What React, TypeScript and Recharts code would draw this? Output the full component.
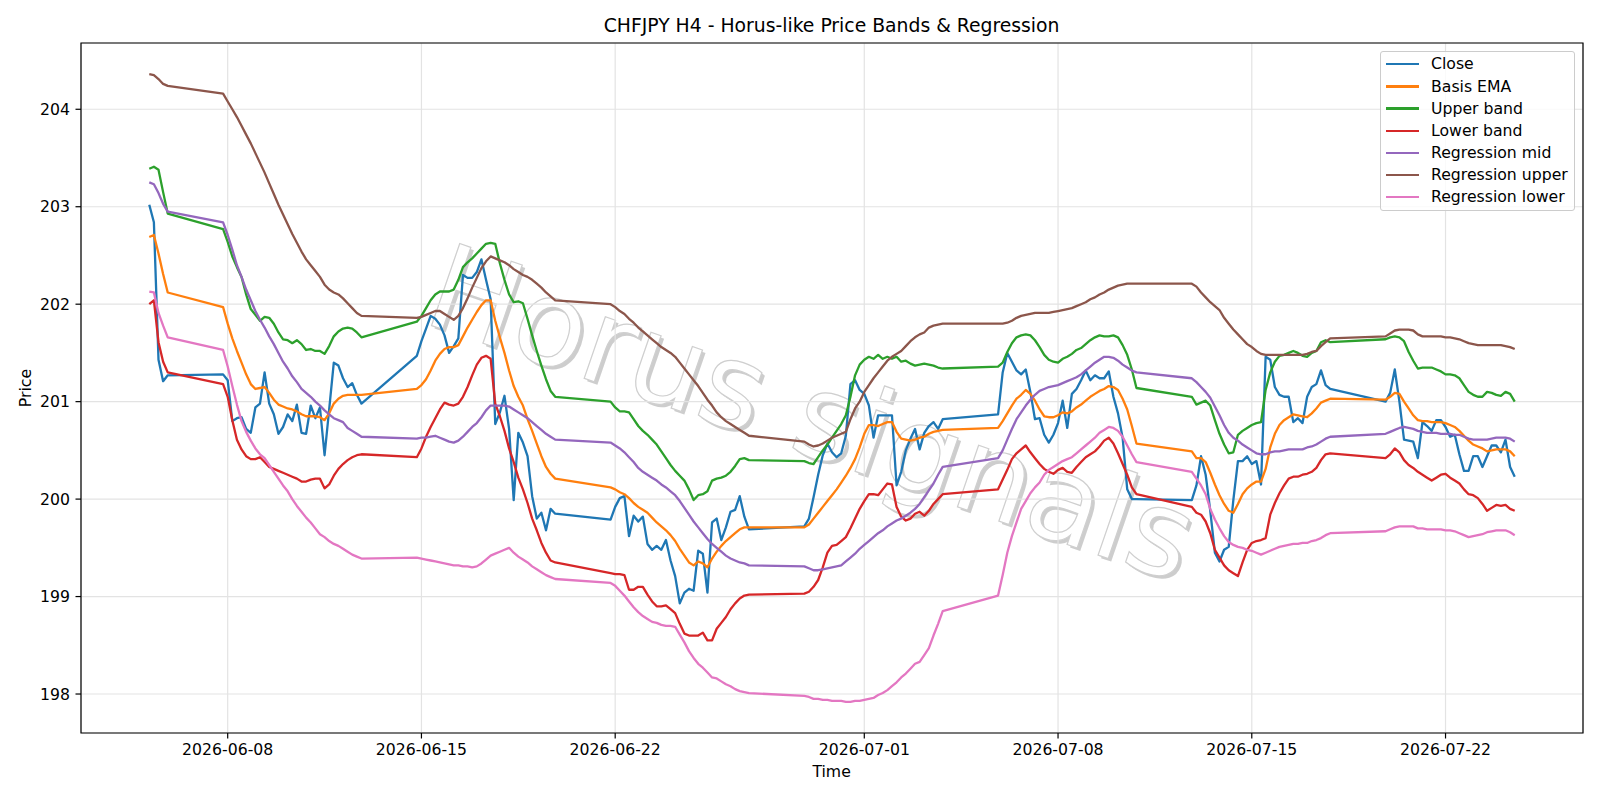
import React from "react";
import {
  LineChart,
  Line,
  XAxis,
  YAxis,
  CartesianGrid,
  Legend,
  ReferenceArea,
} from "recharts";

const FONT = "'DejaVu Sans', Verdana, sans-serif";

// H4 bars: first bar (hours after 2026-06-01 00:00 UTC) and bar count per session.
// Market is shut from Friday 20:00 to Sunday 20:00, so weekends come out as straight joins.
const sessions: [number, number][] = [
  [100, 5],
  [164, 31],
  [332, 31],
  [500, 31],
  [668, 31],
  [836, 31],
  [1004, 31],
  [1172, 29],
];

const tickDates = ["2026-06-08", "2026-06-15", "2026-06-22", "2026-07-01", "2026-07-08", "2026-07-15", "2026-07-22"];
const priceTicks = [198, 199, 200, 201, 202, 203, 204];

// one line per session
const close = [
  203.02, 202.84, 201.43, 201.21, 201.27,
  201.28, 201.22, 200.80, 200.83, 200.84, 200.72, 200.68, 200.94, 200.98, 201.30, 200.98, 200.87, 200.67, 200.74, 200.87, 200.80, 200.97, 200.68, 200.67, 200.96, 200.83, 200.94, 200.45, 200.92, 201.40, 201.37, 201.24, 201.15, 201.19, 201.07, 200.98,
  201.47, 201.62, 201.75, 201.88, 201.85, 201.79, 201.68, 201.50, 201.57, 201.65, 202.30, 202.27, 202.27, 202.33, 202.46, 202.25, 202.05, 200.77, 200.89, 201.06, 200.72, 199.99, 200.68, 200.58, 200.44, 200.03, 199.80, 199.86, 199.68, 199.90, 199.85,
  199.79, 199.92, 200.01, 200.03, 199.62, 199.83, 199.77, 199.82, 199.54, 199.48, 199.52, 199.48, 199.58, 199.37, 199.21, 198.93, 199.04, 199.08, 199.06, 199.47, 199.44, 199.04, 199.76, 199.80, 199.58, 199.71, 199.87, 199.89, 200.03, 199.82, 199.69,
  199.72, 199.80, 200.02, 200.25, 200.45, 200.57, 200.48, 200.43, 200.47, 200.65, 201.18, 201.22, 201.12, 201.08, 200.96, 200.63, 200.86, 200.86, 200.86, 200.86, 200.14, 200.28, 200.50, 200.62, 200.72, 200.51, 200.68, 200.75, 200.79, 200.72, 200.82,
  200.87, 201.30, 201.50, 201.41, 201.32, 201.28, 201.33, 201.10, 200.82, 200.83, 200.66, 200.58, 200.66, 200.78, 201.01, 200.73, 201.08, 201.13, 201.22, 201.32, 201.22, 201.27, 201.24, 201.24, 201.31, 201.05, 200.88, 200.63, 200.10, 200.00, 200.00,
  199.99, 200.14, 200.44, 200.25, 199.88, 199.45, 199.36, 199.48, 199.51, 199.99, 200.39, 200.39, 200.44, 200.36, 200.39, 200.15, 201.46, 201.43, 201.15, 201.07, 201.05, 201.05, 200.79, 200.83, 200.78, 201.05, 201.15, 201.18, 201.32, 201.17, 201.13,
  201.00, 201.09, 201.33, 201.00, 200.61, 200.60, 200.59, 200.42, 200.79, 200.75, 200.70, 200.81, 200.81, 200.74, 200.64, 200.66, 200.46, 200.29, 200.29, 200.44, 200.44, 200.33, 200.44, 200.55, 200.55, 200.48, 200.61, 200.33, 200.23,
];

const basisEma = [
  202.69, 202.71, 202.52, 202.31, 202.12,
  201.97, 201.80, 201.65, 201.52, 201.40, 201.28, 201.18, 201.13, 201.14, 201.15, 201.09, 201.02, 200.97, 200.95, 200.93, 200.92, 200.90, 200.87, 200.85, 200.85, 200.85, 200.84, 200.81, 200.88, 200.98, 201.03, 201.06, 201.07, 201.07, 201.07, 201.07,
  201.13, 201.17, 201.23, 201.32, 201.42, 201.49, 201.54, 201.56, 201.56, 201.58, 201.67, 201.76, 201.84, 201.92, 201.99, 202.04, 202.04, 201.83, 201.66, 201.50, 201.32, 201.16, 201.05, 200.96, 200.82, 200.70, 200.57, 200.44, 200.33, 200.26, 200.21,
  200.12, 200.10, 200.07, 200.05, 200.01, 199.96, 199.92, 199.89, 199.86, 199.81, 199.76, 199.72, 199.68, 199.63, 199.57, 199.49, 199.42, 199.35, 199.32, 199.36, 199.34, 199.30, 199.39, 199.46, 199.52, 199.57, 199.61, 199.65, 199.69, 199.71, 199.71,
  199.71, 199.74, 199.80, 199.86, 199.92, 199.98, 200.04, 200.10, 200.17, 200.24, 200.32, 200.41, 200.53, 200.67, 200.76, 200.76, 200.75, 200.77, 200.79, 200.79, 200.69, 200.62, 200.61, 200.60, 200.61, 200.63, 200.64, 200.67, 200.69, 200.70, 200.71,
  200.73, 200.80, 200.88, 200.96, 201.03, 201.07, 201.12, 201.08, 201.01, 200.92, 200.85, 200.84, 200.84, 200.86, 200.89, 200.88, 200.90, 200.94, 200.97, 201.01, 201.05, 201.08, 201.11, 201.13, 201.16, 201.15, 201.12, 201.03, 200.92, 200.75, 200.57,
  200.49, 200.42, 200.42, 200.38, 200.27, 200.15, 200.04, 199.95, 199.88, 199.86, 199.95, 200.05, 200.11, 200.15, 200.18, 200.18, 200.31, 200.53, 200.67, 200.76, 200.81, 200.84, 200.87, 200.86, 200.85, 200.84, 200.88, 200.93, 200.99, 201.01, 201.03,
  201.02, 201.05, 201.09, 201.08, 201.00, 200.93, 200.86, 200.81, 200.80, 200.80, 200.79, 200.79, 200.79, 200.78, 200.76, 200.74, 200.70, 200.65, 200.60, 200.56, 200.54, 200.52, 200.49, 200.50, 200.51, 200.51, 200.51, 200.49, 200.44,
];

const upperBand = [
  203.39, 203.41, 203.38, 203.15, 202.93,
  202.77, 202.64, 202.49, 202.38, 202.28, 202.10, 201.95, 201.89, 201.83, 201.87, 201.86, 201.80, 201.71, 201.64, 201.63, 201.60, 201.63, 201.59, 201.53, 201.54, 201.52, 201.52, 201.49, 201.57, 201.67, 201.72, 201.75, 201.76, 201.75, 201.71, 201.66,
  201.82, 201.88, 201.96, 202.04, 202.10, 202.13, 202.13, 202.13, 202.15, 202.25, 202.38, 202.43, 202.47, 202.52, 202.57, 202.62, 202.63, 202.62, 202.42, 202.25, 202.10, 202.02, 202.03, 202.01, 201.85, 201.68, 201.52, 201.37, 201.23, 201.11, 201.05,
  201.00, 200.94, 200.90, 200.90, 200.89, 200.82, 200.75, 200.70, 200.66, 200.61, 200.56, 200.49, 200.42, 200.35, 200.29, 200.24, 200.19, 200.10, 199.99, 200.04, 200.05, 200.08, 200.19, 200.21, 200.22, 200.24, 200.28, 200.34, 200.41, 200.42, 200.40,
  200.39, 200.37, 200.36, 200.43, 200.50, 200.56, 200.63, 200.70, 200.77, 200.86, 201.05, 201.27, 201.38, 201.43, 201.46, 201.44, 201.48, 201.44, 201.46, 201.44, 201.46, 201.41, 201.42, 201.39, 201.37, 201.38, 201.39, 201.38, 201.37, 201.35, 201.34,
  201.36, 201.40, 201.51, 201.60, 201.66, 201.68, 201.69, 201.68, 201.63, 201.56, 201.48, 201.43, 201.41, 201.40, 201.44, 201.46, 201.49, 201.53, 201.55, 201.59, 201.63, 201.66, 201.68, 201.67, 201.67, 201.68, 201.66, 201.58, 201.48, 201.33, 201.14,
  201.05, 200.97, 200.99, 201.01, 200.96, 200.81, 200.67, 200.56, 200.47, 200.48, 200.66, 200.70, 200.73, 200.76, 200.78, 200.79, 201.12, 201.30, 201.41, 201.47, 201.48, 201.50, 201.52, 201.50, 201.47, 201.46, 201.50, 201.52, 201.61, 201.63, 201.61,
  201.64, 201.66, 201.67, 201.66, 201.62, 201.51, 201.42, 201.34, 201.35, 201.35, 201.35, 201.33, 201.31, 201.28, 201.28, 201.27, 201.24, 201.17, 201.10, 201.07, 201.05, 201.05, 201.10, 201.09, 201.07, 201.06, 201.10, 201.08, 201.00,
];

const lowerBand = [
  202.00, 202.04, 201.61, 201.41, 201.30,
  201.18, 201.05, 200.81, 200.61, 200.51, 200.44, 200.41, 200.41, 200.43, 200.38, 200.33, 200.31, 200.29, 200.27, 200.25, 200.23, 200.21, 200.18, 200.18, 200.20, 200.21, 200.21, 200.11, 200.15, 200.24, 200.31, 200.36, 200.40, 200.43, 200.45, 200.46,
  200.43, 200.52, 200.64, 200.74, 200.83, 200.92, 200.99, 200.97, 200.96, 200.98, 201.05, 201.15, 201.27, 201.38, 201.45, 201.47, 201.44, 200.98, 200.85, 200.70, 200.52, 200.38, 200.22, 200.10, 199.96, 199.80, 199.68, 199.55, 199.45, 199.37, 199.35,
  199.24, 199.23, 199.23, 199.22, 199.07, 199.07, 199.10, 199.10, 199.02, 198.95, 198.90, 198.90, 198.91, 198.87, 198.83, 198.72, 198.62, 198.60, 198.60, 198.60, 198.63, 198.55, 198.55, 198.67, 198.73, 198.79, 198.87, 198.93, 198.98, 199.01, 199.02,
  199.03, 199.05, 199.10, 199.17, 199.30, 199.45, 199.52, 199.53, 199.57, 199.61, 199.70, 199.80, 199.90, 199.98, 200.05, 200.05, 200.04, 200.10, 200.16, 200.15, 199.92, 199.82, 199.78, 199.80, 199.85, 199.87, 199.83, 199.88, 199.95, 200.00, 200.05,
  200.10, 200.20, 200.30, 200.41, 200.47, 200.51, 200.55, 200.48, 200.42, 200.36, 200.31, 200.28, 200.26, 200.30, 200.32, 200.28, 200.27, 200.33, 200.38, 200.43, 200.46, 200.49, 200.54, 200.60, 200.63, 200.57, 200.47, 200.36, 200.25, 200.12, 200.05,
  199.92, 199.86, 199.84, 199.77, 199.65, 199.48, 199.40, 199.32, 199.27, 199.24, 199.21, 199.35, 199.48, 199.55, 199.57, 199.58, 199.60, 199.84, 199.96, 200.06, 200.14, 200.21, 200.23, 200.23, 200.25, 200.26, 200.28, 200.32, 200.40, 200.46, 200.47,
  200.42, 200.46, 200.52, 200.48, 200.40, 200.35, 200.32, 200.28, 200.25, 200.22, 200.19, 200.22, 200.25, 200.26, 200.22, 200.19, 200.16, 200.10, 200.05, 200.04, 200.01, 199.95, 199.88, 199.91, 199.94, 199.93, 199.94, 199.90, 199.88,
];

const regressionMid = [
  203.25, 203.23, 203.14, 203.03, 202.95,
  202.84, 202.71, 202.56, 202.40, 202.28, 202.15, 202.04, 201.93, 201.84, 201.76, 201.67, 201.59, 201.50, 201.41, 201.34, 201.26, 201.20, 201.13, 201.09, 201.05, 201.00, 200.96, 200.91, 200.87, 200.83, 200.81, 200.79, 200.73, 200.70, 200.67, 200.64,
  200.62, 200.63, 200.63, 200.64, 200.65, 200.63, 200.61, 200.59, 200.58, 200.60, 200.64, 200.69, 200.74, 200.78, 200.84, 200.91, 200.96, 200.96, 200.96, 200.96, 200.95, 200.92, 200.89, 200.86, 200.83, 200.79, 200.75, 200.71, 200.67, 200.64, 200.61,
  200.58, 200.55, 200.52, 200.48, 200.43, 200.38, 200.32, 200.28, 200.25, 200.22, 200.19, 200.15, 200.12, 200.08, 200.04, 199.98, 199.91, 199.84, 199.77, 199.71, 199.65, 199.59, 199.54, 199.50, 199.46, 199.42, 199.39, 199.37, 199.35, 199.34, 199.32,
  199.31, 199.29, 199.27, 199.27, 199.28, 199.29, 199.30, 199.31, 199.32, 199.36, 199.40, 199.44, 199.49, 199.53, 199.57, 199.61, 199.65, 199.68, 199.72, 199.75, 199.78, 199.80, 199.83, 199.86, 199.90, 199.95, 200.02, 200.09, 200.16, 200.25, 200.33,
  200.42, 200.50, 200.61, 200.72, 200.82, 200.89, 200.96, 201.02, 201.07, 201.11, 201.13, 201.15, 201.16, 201.17, 201.19, 201.21, 201.23, 201.25, 201.28, 201.32, 201.36, 201.40, 201.43, 201.46, 201.46, 201.45, 201.42, 201.38, 201.35, 201.32, 201.30,
  201.24, 201.20, 201.15, 201.10, 201.04, 200.95, 200.86, 200.76, 200.68, 200.63, 200.60, 200.56, 200.53, 200.50, 200.47, 200.46, 200.46, 200.48, 200.49, 200.49, 200.50, 200.51, 200.51, 200.51, 200.51, 200.53, 200.54, 200.56, 200.59, 200.62, 200.64,
  200.67, 200.69, 200.71, 200.73, 200.74, 200.73, 200.72, 200.70, 200.69, 200.68, 200.68, 200.68, 200.67, 200.67, 200.67, 200.66, 200.66, 200.64, 200.62, 200.61, 200.61, 200.61, 200.61, 200.62, 200.63, 200.63, 200.63, 200.62, 200.59,
];

const regressionUpper = [
  204.36, 204.35, 204.31, 204.26, 204.24,
  204.16, 204.08, 204.00, 203.92, 203.83, 203.74, 203.65, 203.55, 203.45, 203.35, 203.24, 203.13, 203.02, 202.92, 202.82, 202.72, 202.63, 202.54, 202.46, 202.40, 202.34, 202.28, 202.20, 202.15, 202.12, 202.10, 202.06, 202.01, 201.96, 201.91, 201.88,
  201.86, 201.87, 201.89, 201.91, 201.93, 201.93, 201.90, 201.87, 201.84, 201.88, 201.96, 202.06, 202.17, 202.27, 202.37, 202.44, 202.49, 202.47, 202.45, 202.43, 202.40, 202.36, 202.33, 202.30, 202.28, 202.25, 202.21, 202.17, 202.12, 202.08, 202.04,
  202.00, 201.97, 201.93, 201.90, 201.85, 201.81, 201.76, 201.72, 201.68, 201.64, 201.60, 201.56, 201.53, 201.50, 201.46, 201.40, 201.34, 201.28, 201.22, 201.16, 201.09, 201.02, 200.96, 200.89, 200.84, 200.80, 200.77, 200.74, 200.71, 200.68, 200.65,
  200.59, 200.56, 200.54, 200.55, 200.57, 200.60, 200.63, 200.65, 200.67, 200.69, 200.82, 200.93, 201.00, 201.10, 201.17, 201.24, 201.30, 201.36, 201.42, 201.46, 201.49, 201.52, 201.57, 201.62, 201.66, 201.69, 201.71, 201.76, 201.78, 201.79, 201.80,
  201.80, 201.80, 201.81, 201.83, 201.86, 201.88, 201.89, 201.90, 201.91, 201.91, 201.91, 201.91, 201.92, 201.93, 201.94, 201.95, 201.96, 201.98, 202.00, 202.02, 202.05, 202.07, 202.10, 202.12, 202.15, 202.17, 202.19, 202.20, 202.21, 202.21, 202.21,
  202.21, 202.18, 202.12, 202.07, 202.02, 201.98, 201.94, 201.86, 201.80, 201.74, 201.69, 201.64, 201.59, 201.56, 201.52, 201.49, 201.48, 201.48, 201.48, 201.48, 201.48, 201.48, 201.48, 201.48, 201.48, 201.49, 201.51, 201.52, 201.57, 201.61, 201.65,
  201.67, 201.70, 201.73, 201.74, 201.74, 201.74, 201.73, 201.69, 201.67, 201.67, 201.67, 201.67, 201.67, 201.66, 201.66, 201.65, 201.64, 201.62, 201.60, 201.59, 201.58, 201.58, 201.58, 201.58, 201.58, 201.58, 201.57, 201.56, 201.54,
];

const regressionLower = [
  202.13, 202.12, 201.91, 201.78, 201.66,
  201.53, 201.36, 201.16, 200.97, 200.80, 200.69, 200.60, 200.52, 200.46, 200.42, 200.35, 200.28, 200.21, 200.14, 200.08, 200.00, 199.93, 199.87, 199.81, 199.76, 199.70, 199.64, 199.61, 199.57, 199.54, 199.52, 199.49, 199.46, 199.43, 199.41, 199.39,
  199.40, 199.39, 199.38, 199.37, 199.36, 199.35, 199.34, 199.33, 199.32, 199.32, 199.31, 199.31, 199.30, 199.31, 199.34, 199.38, 199.42, 199.44, 199.46, 199.48, 199.50, 199.45, 199.41, 199.38, 199.35, 199.31, 199.28, 199.25, 199.22, 199.20, 199.18,
  199.14, 199.11, 199.06, 199.01, 198.95, 198.89, 198.84, 198.80, 198.77, 198.74, 198.73, 198.71, 198.70, 198.70, 198.69, 198.61, 198.53, 198.44, 198.37, 198.31, 198.27, 198.22, 198.17, 198.16, 198.13, 198.10, 198.08, 198.05, 198.03, 198.02, 198.01,
  197.98, 197.97, 197.95, 197.95, 197.94, 197.94, 197.93, 197.93, 197.93, 197.92, 197.92, 197.93, 197.93, 197.94, 197.95, 197.96, 197.99, 198.01, 198.04, 198.08, 198.12, 198.17, 198.21, 198.26, 198.31, 198.33, 198.40, 198.47, 198.60, 198.72, 198.85,
  199.01, 199.22, 199.45, 199.62, 199.76, 199.90, 199.98, 200.06, 200.12, 200.17, 200.25, 200.30, 200.33, 200.36, 200.39, 200.41, 200.43, 200.47, 200.51, 200.55, 200.59, 200.63, 200.68, 200.71, 200.74, 200.73, 200.70, 200.64, 200.55, 200.46, 200.38,
  200.28, 200.21, 200.14, 200.05, 199.90, 199.79, 199.70, 199.62, 199.56, 199.53, 199.51, 199.50, 199.48, 199.47, 199.45, 199.43, 199.45, 199.47, 199.49, 199.51, 199.52, 199.53, 199.54, 199.54, 199.55, 199.55, 199.57, 199.58, 199.60, 199.63, 199.65,
  199.67, 199.69, 199.71, 199.72, 199.72, 199.72, 199.72, 199.70, 199.70, 199.69, 199.69, 199.69, 199.69, 199.68, 199.68, 199.67, 199.65, 199.63, 199.61, 199.62, 199.63, 199.64, 199.66, 199.67, 199.68, 199.68, 199.68, 199.66, 199.63,
];

const series = [
  { key: "close", name: "Close", color: "#1f77b4", values: close },
  { key: "ema", name: "Basis EMA", color: "#ff7f0e", values: basisEma },
  { key: "upper", name: "Upper band", color: "#2ca02c", values: upperBand },
  { key: "lower", name: "Lower band", color: "#d62728", values: lowerBand },
  { key: "regMid", name: "Regression mid", color: "#9467bd", values: regressionMid },
  { key: "regUpper", name: "Regression upper", color: "#8c564b", values: regressionUpper },
  { key: "regLower", name: "Regression lower", color: "#e377c2", values: regressionLower },
];

const EPOCH = Date.UTC(2026, 5, 1);
const HOUR = 3600 * 1000;

const hours = sessions.flatMap(([start, n]) =>
  Array.from({ length: n }, (_, i) => start + 4 * i)
);

const data = hours.map((t, i) => {
  const row: Record<string, number> = { t };
  series.forEach((s) => {
    row[s.key] = s.values[i];
  });
  return row;
});

const xTicks = tickDates.map((d) => (Date.parse(d + "T00:00:00Z") - EPOCH) / HOUR);
const fmtDate = (h: number) => new Date(EPOCH + h * HOUR).toISOString().slice(0, 10);

// 5% padding either side, like matplotlib's default margins
const span = hours[hours.length - 1] - hours[0];
const xDomain: [number, number] = [hours[0] - span * 0.05, hours[hours.length - 1] + span * 0.05];
const yDomain: [number, number] = [197.6, 204.68];

const tickStyle = { fill: "#000", fontSize: 15.7, fontFamily: FONT };

const LegendBox = () => (
  <div
    style={{
      width: 195,
      height: 160,
      boxSizing: "border-box",
      border: "1px solid #cccccc",
      borderRadius: 3,
      background: "rgba(255,255,255,0.8)",
      position: "relative",
      fontFamily: FONT,
      fontSize: 15.7,
      color: "#000",
    }}
  >
    {series.map((s, i) => (
      <div
        key={s.key}
        style={{
          position: "absolute",
          left: 0,
          top: 1.2 + 22.17 * i,
          height: 22.17,
          display: "flex",
          alignItems: "center",
          whiteSpace: "nowrap",
        }}
      >
        <span style={{ display: "inline-block", marginLeft: 5, width: 33, height: 2.4, background: s.color }} />
        <span style={{ marginLeft: 12, lineHeight: 1 }}>{s.name}</span>
      </div>
    ))}
  </div>
);

// watermark sits behind the plot; a grey drop copy under a white face gives the embossed look
const Watermark = () => (
  <svg width={1600} height={800} style={{ position: "absolute", left: 0, top: 0 }}>
    <g fontFamily={FONT} fontSize={119} textAnchor="middle">
      <g transform="translate(813 423) rotate(19)">
        <text x={0} y={34} fill="#c4c4c4" fillOpacity={0.85}>
          Horus signals
        </text>
      </g>
      <g transform="translate(810 420) rotate(19)">
        <text x={0} y={34} fill="#ffffff" stroke="#cfcfcf" strokeWidth={1.2}>
          Horus signals
        </text>
      </g>
    </g>
  </svg>
);

export default function App() {
  return (
    <div
      style={{
        position: "absolute",
        left: 0,
        top: 0,
        width: 1600,
        height: 800,
        background: "#fff",
        overflow: "hidden",
      }}
    >
      <Watermark />
      <div style={{ position: "absolute", left: 0, top: 0 }}>
        <LineChart width={1600} height={800} data={data} margin={{ top: 43, right: 17, bottom: 0, left: 0 }}>
          <CartesianGrid stroke="#e3e3e3" strokeWidth={1.2} />
          <XAxis
            type="number"
            dataKey="t"
            domain={xDomain}
            ticks={xTicks}
            interval={0}
            allowDataOverflow
            tickFormatter={fmtDate}
            height={67}
            tickSize={5.5}
            tickMargin={5}
            axisLine={false}
            tickLine={{ stroke: "#000", strokeWidth: 1.2 }}
            tick={tickStyle}
          />
          <YAxis
            type="number"
            domain={yDomain}
            ticks={priceTicks}
            interval={0}
            allowDataOverflow
            width={81}
            tickSize={5.5}
            tickMargin={5.5}
            axisLine={false}
            tickLine={{ stroke: "#000", strokeWidth: 1.2 }}
            tick={tickStyle}
          />
          <ReferenceArea
            x1={xDomain[0]}
            x2={xDomain[1]}
            y1={yDomain[0]}
            y2={yDomain[1]}
            fill="none"
            stroke="#000"
            strokeWidth={1.2}
          />
          {series.map((s) => (
            <Line
              key={s.key}
              type="linear"
              dataKey={s.key}
              name={s.name}
              stroke={s.color}
              strokeWidth={2.3}
              strokeLinejoin="round"
              dot={false}
              activeDot={false}
              isAnimationActive={false}
            />
          ))}
          <Legend
            layout="vertical"
            align="center"
            verticalAlign="middle"
            content={LegendBox}
            wrapperStyle={{ left: 1380, top: 51, width: 195, height: 160 }}
          />
        </LineChart>
      </div>
      <svg
        width={1600}
        height={800}
        style={{ position: "absolute", left: 0, top: 0, pointerEvents: "none" }}
        fontFamily={FONT}
        fill="#000"
      >
        <text x={831.6} y={32} fontSize={18.8} textAnchor="middle">
          CHFJPY H4 - Horus-like Price Bands &amp; Regression
        </text>
        <text x={831.6} y={776.5} fontSize={15.7} textAnchor="middle">
          Time
        </text>
        <text transform="translate(30.5 388) rotate(-90)" fontSize={15.7} textAnchor="middle">
          Price
        </text>
      </svg>
    </div>
  );
}
